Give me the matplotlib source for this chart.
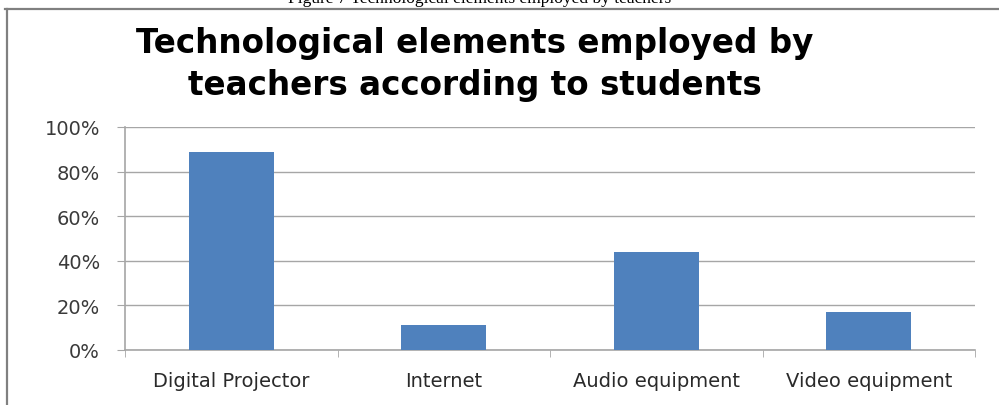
import matplotlib
matplotlib.use("Agg")
import matplotlib.pyplot as plt
from matplotlib.lines import Line2D
import numpy as np

## Data
categories = ["Digital Projector", "Internet", "Audio equipment", "Video equipment"]
shares = [0.89, 0.11, 0.44, 0.17]
yticks = [0.0, 0.2, 0.4, 0.6, 0.8, 1.0]
ytick_labels = ["0%", "20%", "40%", "60%", "80%", "100%"]

plt.rcParams['font.family'] = ['DejaVu Sans']

fig = plt.figure(figsize=(9.99, 4.06), dpi=100)
fig.patch.set_facecolor("white")

## Caption above the framed chart (mostly cropped off)
fig.text(0.48, 1 - 3 / 406, "Figure 7 Technological elements employed by teachers",
         family="Liberation Serif", fontsize=12.5, ha="center", va="baseline", color="black")

## Frame around the chart
fig.add_artist(Line2D([5 / 999, 1.0], [1 - 10 / 406, 1 - 10 / 406], transform=fig.transFigure,
                      color="#808080", lw=1.6))
fig.add_artist(Line2D([7 / 999, 7 / 999], [0, 1 - 10 / 406], transform=fig.transFigure,
                      color="#808080", lw=1.6))

## Title
fig.text(0.475, 1 - 44 / 406, "Technological elements employed by",
         fontsize=23.5, fontweight="bold", ha="center", va="center", color="black")
fig.text(0.475, 1 - 85 / 406, "teachers according to students",
         fontsize=23.5, fontweight="bold", ha="center", va="center", color="black")

ax = fig.add_axes([125 / 999, 1 - 351 / 406, 850 / 999, 223 / 406])
x = np.arange(len(categories))
ax.bar(x, shares, width=0.4, color="#4f81bd", zorder=3)

ax.set_xlim(-0.5, len(categories) - 0.5)
ax.set_ylim(0, 1.0)
ax.set_yticks(yticks)
ax.set_yticklabels(ytick_labels, fontsize=14, color="#3a3a3a")
ax.yaxis.grid(True, color="#a6a6a6", lw=1.0, zorder=0)

# category labels centred, ticks on the category boundaries
ax.set_xticks(x)
ax.set_xticklabels(categories, fontsize=14, color="#2a2a2a")
ax.tick_params(axis="x", length=0, pad=15)
ax.set_xticks(np.arange(len(categories) + 1) - 0.5, minor=True)
ax.tick_params(axis="x", which="minor", length=5, color="#a6a6a6", direction="out")
ax.tick_params(axis="y", length=6, color="#a6a6a6", pad=12)

for side in ["top", "right"]:
    ax.spines[side].set_visible(False)
for side in ["left", "bottom"]:
    ax.spines[side].set_color("#a6a6a6")
    ax.spines[side].set_linewidth(1.2)

plt.savefig("out.png", dpi=100)
